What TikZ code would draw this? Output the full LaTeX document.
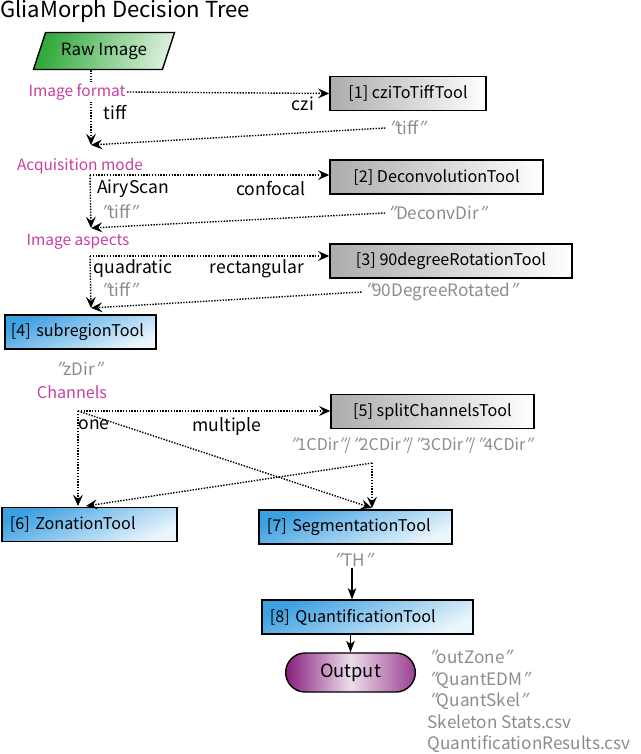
\documentclass[tikz,border=0pt]{standalone}
\usepackage{fontspec}
\setmainfont{Noto Sans CJK JP}
\newfontfamily\slantq[FakeSlant=0.35]{Noto Sans CJK JP}
\usepackage{tikz}
\usetikzlibrary{shapes.geometric,shapes.misc}
\usetikzlibrary{arrows.meta}
\usetikzlibrary{positioning}
\usepackage{xcolor}
\definecolor{askpink}{RGB}{200,64,160}
\definecolor{dirgray}{RGB}{140,140,140}
\definecolor{toolblue}{RGB}{60,160,225}
\definecolor{rawgreen}{RGB}{50,170,60}
\definecolor{outpurple}{RGB}{135,30,125}
\newcommand{\qq}[1]{{\slantq ″}\kern0.8pt#1\kern-1.2pt{\slantq ″}}

\begin{document}
\begin{tikzpicture}[x=0.025cm,y=-0.025cm,
  dots/.style={densely dotted, line width=1pt, -{Stealth[length=8pt,width=7pt,inset=3pt]}},
  flow/.style={line width=1pt, -{Stealth[length=8pt,width=6pt,inset=2pt]}},
  askq/.style={text=askpink, fill=white, inner sep=1pt, font=\fontsize{11}{13}\selectfont},
  ans/.style={inner sep=1pt, font=\fontsize{12.5}{14}\selectfont},
  dirq/.style={text=dirgray, inner sep=1pt, font=\fontsize{12.2}{15}\selectfont},
  graytool/.style={draw, line width=1pt, left color=gray!65, right color=white,
    minimum width=#1, minimum height=0.84cm, inner sep=0pt, font=\fontsize{11.5}{14}\selectfont},
  bluetool/.style={draw, line width=1pt, top color=toolblue, bottom color=toolblue!10,
    shading angle=25, text width=#1, align=left, inner xsep=0.2cm,
    minimum height=0.84cm, font=\fontsize{11.5}{14}\selectfont}]
\useasboundingbox (0,0) rectangle (640,754);

\node[anchor=west, inner sep=0pt, font=\fontsize{15.7}{18}\selectfont] (title) at (0,11) {GliaMorph Decision Tree};

\node[draw, line width=1pt, trapezium, trapezium left angle=69, trapezium right angle=111,
  trapezium stretches=true, minimum width=3.55cm, minimum height=0.925cm,
  left color=rawgreen, right color=rawgreen!20, shading angle=70,
  font=\fontsize{12}{14}\selectfont] (raw) at (104,51) {Raw Image};

% image format
\node[askq] (fmt) at (77,92) {Image format};
\node[graytool=3.9cm] (c1) at (408,93.5) {[1] cziToTiffTool};
\node[ans] (tiffA) at (115,113) {tiff};
\node[ans] (czi) at (303,104) {czi};
\node[dirq] (t1) at (406,128) {\qq{tiff}};
\coordinate (m1) at (91,145);
\draw[dots] (raw.south -| m1) -- (m1);
\draw[dots] (fmt.east) -- (c1.west);
\draw[dots] (t1.west) -- (m1);
\node[askq] (fmt) at (77,92) {Image format};

% acquisition mode
\node[askq] (acq) at (80,166) {Acquisition mode};
\node[graytool=5.325cm] (c2) at (436.5,177) {[2] DeconvolutionTool};
\coordinate (a2) at (90,175);
\coordinate (m2) at (91,228);
\node[ans] (airy) at (133,189) {AiryScan};
\node[ans] (conf) at (271,189) {confocal};
\node[dirq] (t2) at (118,212) {\qq{tiff}};
\node[dirq] (d2) at (436,213) {\qq{DeconvDir}};
\draw[dots] (a2) -- (c2.west |- a2);
\draw[dots] (a2) -- (m2);
\draw[dots] (d2.west) -- (m2);

% image aspects
\node[askq] (asp) at (78,242) {Image aspects};
\node[graytool=6.05cm] (c3) at (451,261) {[3] 90degreeRotationTool};
\coordinate (a3) at (90,256);
\coordinate (m3) at (91,308);
\node[ans] (quad) at (133,269) {quadratic};
\node[ans] (rect) at (257,269) {rectangular};
\node[dirq] (t3) at (118,290) {\qq{tiff}};
\node[dirq] (d3) at (440,292) {\qq{90DegreeRotated}};
\draw[dots] (a3) -- (c3.west |- a3);
\draw[dots] (a3) -- (m3);
\draw[dots] (d3.west) -- (m3);

\node[bluetool=3.475cm, inner xsep=0.15cm] (c4) at (80.5,332) {[4] subregionTool};
\node[dirq] (zdir) at (78,369) {\qq{zDir}};

% channels
\node[askq, font=\fontsize{11.5}{13}\selectfont] (chan) at (72,392) {Channels};
\node[graytool=5.075cm] (c5) at (432.5,411.5) {[5] splitChannelsTool};
\node[ans] (one) at (94,425) {one};
\node[ans] (multi) at (227,427) {multiple};
\node[dirq, font=\fontsize{11.5}{14}\selectfont] (d5) at (410,446) {\qq{1CDir}/\qq{2CDir}/\qq{3CDir}/\qq{4CDir}};
\node[bluetool=3.975cm] (c6) at (89.5,524.5) {[6] ZonationTool};
\node[bluetool=4.425cm] (c7) at (355.5,527) {[7] SegmentationTool};
\coordinate (a4) at (78,411);
\coordinate (split) at (372,463);
\coordinate (m6) at (86,506);
\coordinate (m7) at (372,508);
\draw[dots] (a4) -- (c5.west |- a4);
\draw[dots] (a4) -- (a4 |- m6);
\draw[dots] (a4) -- (m7);
\draw[dots] (split) -- (m7);
\draw[dots] (split) -- (m6);

% quantification
\node[dirq] (th) at (352,560) {\qq{TH}};
\node[bluetool=4.875cm] (c8) at (367.5,617) {[8] QuantificationTool};
\node[draw, line width=1pt, rounded rectangle, minimum width=3.475cm, minimum height=0.975cm,
  left color=outpurple, right color=outpurple!85, middle color=outpurple!15,
  font=\fontsize{13}{15}\selectfont] (out) at (350.5,672.5) {Output};
\draw[flow] (th.south) -- (th.south |- c8.north);
\draw[flow] (out.north |- c8.south) -- (out.north);
\node[dirq, anchor=north west, align=left, font=\fontsize{12.2}{15.3}\selectfont] (res) at (426,649)
  {\qq{outZone}\\\qq{QuantEDM}\\\qq{QuantSkel}\\Skeleton Stats.csv\\QuantificationResults.csv};
\end{tikzpicture}
\end{document}
